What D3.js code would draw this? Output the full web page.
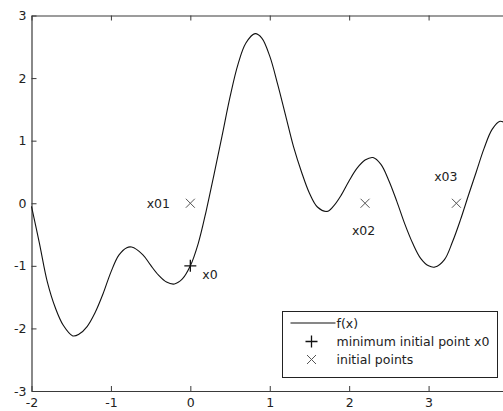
<!DOCTYPE html>
<html>
<head>
<meta charset="utf-8">
<script src="https://d3js.org/d3.v7.min.js"></script>
<style>
  body { margin: 0; background: #fff; }
  svg { display: block; }
  text { font-family: "DejaVu Sans", Arial, sans-serif; font-size: 12.5px; fill: #222; }
</style>
</head>
<body>
<svg></svg>
<script>
// curve samples
var curveX = [-2.00, -1.90, -1.80, -1.70, -1.60, -1.48, -1.40, -1.30, -1.20, -1.10, -1.00, -0.90,
  -0.80, -0.74, -0.60, -0.50, -0.40, -0.30, -0.20, -0.10, 0.00, 0.10, 0.20, 0.30, 0.40, 0.50,
  0.60, 0.70, 0.815, 0.90, 1.00, 1.10, 1.20, 1.30, 1.40, 1.50, 1.60, 1.72, 1.80, 1.90, 2.00,
  2.10, 2.20, 2.30, 2.40, 2.50, 2.60, 2.70, 2.80, 2.90, 3.00, 3.08, 3.20, 3.30, 3.40, 3.50,
  3.60, 3.70, 3.80, 3.90, 4.00];
var curveY = [-0.05, -0.64, -1.26, -1.67, -1.95, -2.12, -2.09, -1.97, -1.75, -1.45, -1.10, -0.83,
  -0.71, -0.70, -0.82, -0.99, -1.15, -1.26, -1.29, -1.21, -1.00, -0.64, -0.12, 0.47, 1.08, 1.70,
  2.22, 2.56, 2.71, 2.64, 2.35, 1.90, 1.40, 0.90, 0.50, 0.16, -0.06, -0.13, -0.05, 0.13, 0.36,
  0.56, 0.69, 0.73, 0.62, 0.36, 0.03, -0.33, -0.64, -0.88, -1.00, -1.02, -0.90, -0.62, -0.27, 0.12,
  0.50, 0.88, 1.18, 1.31, 1.25];

var startX = [0, 2.2, 3.35];
var startY = [0, 0, 0];
var startLabels = ["x01", "x02", "x03"];
var bestX = [0];
var bestY = [-1];

var xTicks = [-2, -1, 0, 1, 2, 3, 4];
var xTickLabels = ["-2", "-1", "0", "1", "2", "3", ""];
var yTicks = [-3, -2, -1, 0, 1, 2, 3];
var yTickLabels = ["-3", "-2", "-1", "0", "1", "2", "3"];
var legendLabels = ["f(x)", "minimum initial point x0", "initial points"];

var width = 503, height = 411;
var plot = { left: 31.5, top: 15.5, right: 508, bottom: 391 };

var svg = d3.select("svg").attr("width", width).attr("height", height);

var xscale = d3.scaleLinear().domain([-2, 4]).range([plot.left, plot.right]);
var yscale = d3.scaleLinear().domain([-3, 3]).range([plot.bottom, plot.top]);

var axisColor = "#3a3a3a";

// box with inward ticks on all sides
function styleAxis(g) {
  g.select(".domain").attr("stroke", axisColor).attr("stroke-width", 1.2);
  g.selectAll(".tick line").attr("stroke", axisColor);
  g.selectAll(".tick text").attr("fill", "#222").style("font-size", "12.5px");
}

svg.append("g")
  .attr("transform", "translate(0," + plot.bottom + ")")
  .call(d3.axisBottom(xscale).tickValues(xTicks).tickSizeInner(-5).tickSizeOuter(0).tickPadding(7)
    .tickFormat(function(d, i){ return xTickLabels[i]; }))
  .call(styleAxis);

svg.append("g")
  .attr("transform", "translate(0," + plot.top + ")")
  .call(d3.axisTop(xscale).tickValues(xTicks).tickSizeInner(-5).tickSizeOuter(0).tickFormat(""))
  .call(styleAxis);

svg.append("g")
  .attr("transform", "translate(" + plot.left + ",0)")
  .call(d3.axisLeft(yscale).tickValues(yTicks).tickSizeInner(-5).tickSizeOuter(0).tickPadding(5)
    .tickFormat(function(d, i){ return yTickLabels[i]; }))
  .call(styleAxis);

svg.append("g")
  .attr("transform", "translate(" + plot.right + ",0)")
  .call(d3.axisRight(yscale).tickValues(yTicks).tickSizeInner(-5).tickSizeOuter(0).tickFormat(""))
  .call(styleAxis);

// function curve
var pts = curveX.map(function(x, i){ return [x, curveY[i]]; });
var line = d3.line()
  .x(function(d){ return xscale(d[0]); })
  .y(function(d){ return yscale(d[1]); })
  .curve(d3.curveCatmullRom.alpha(0.5));

svg.append("path")
  .datum(pts)
  .attr("d", line)
  .attr("fill", "none")
  .attr("stroke", "#111")
  .attr("stroke-width", 1.1);

function cross(g, cx, cy, r, color) {
  g.append("path")
    .attr("d", "M" + (cx - r) + "," + (cy - r) + "L" + (cx + r) + "," + (cy + r) +
               "M" + (cx - r) + "," + (cy + r) + "L" + (cx + r) + "," + (cy - r))
    .attr("stroke", color).attr("stroke-width", 1).attr("fill", "none");
}
function plus(g, cx, cy, r, color) {
  g.append("path")
    .attr("d", "M" + (cx - r) + "," + cy + "L" + (cx + r) + "," + cy +
               "M" + cx + "," + (cy - r) + "L" + cx + "," + (cy + r))
    .attr("stroke", color).attr("stroke-width", 1.3).attr("fill", "none");
}

// initial points
var marks = svg.append("g");
startX.forEach(function(x, i){
  cross(marks, xscale(x), yscale(startY[i]), 4.5, "#555");
});
bestX.forEach(function(x, i){
  plus(marks, xscale(x), yscale(bestY[i]), 6, "#111");
});

// point labels
var labelOffset = [[-32, 4.5], [-1.5, 31.5], [-10.5, -22.5]];
svg.selectAll(".plabel")
  .data(startLabels)
  .enter()
  .append("text")
  .attr("class", "plabel")
  .attr("x", function(d, i){ return xscale(startX[i]) + labelOffset[i][0]; })
  .attr("y", function(d, i){ return yscale(startY[i]) + labelOffset[i][1]; })
  .attr("text-anchor", "middle")
  .text(function(d){ return d; });

svg.append("text")
  .attr("x", xscale(bestX[0]) + 12)
  .attr("y", yscale(bestY[0]) + 13)
  .text("x0");

// legend
var lg = svg.append("g").attr("transform", "translate(282.5,311.5)");
lg.append("rect")
  .attr("width", 215).attr("height", 66)
  .attr("fill", "#fff").attr("stroke", "#222").attr("stroke-width", 1);

var rowY = [11.5, 30, 48];
lg.append("line")
  .attr("x1", 8).attr("x2", 53).attr("y1", rowY[0]).attr("y2", rowY[0])
  .attr("stroke", "#111").attr("stroke-width", 1.1);
plus(lg, 29, rowY[1], 6, "#111");
cross(lg, 29, rowY[2], 4.5, "#555");

lg.selectAll(".ltext")
  .data(legendLabels)
  .enter()
  .append("text")
  .attr("class", "ltext")
  .attr("x", 54)
  .attr("y", function(d, i){ return rowY[i] + 4.5; })
  .text(function(d){ return d; });
</script>
</body>
</html>
